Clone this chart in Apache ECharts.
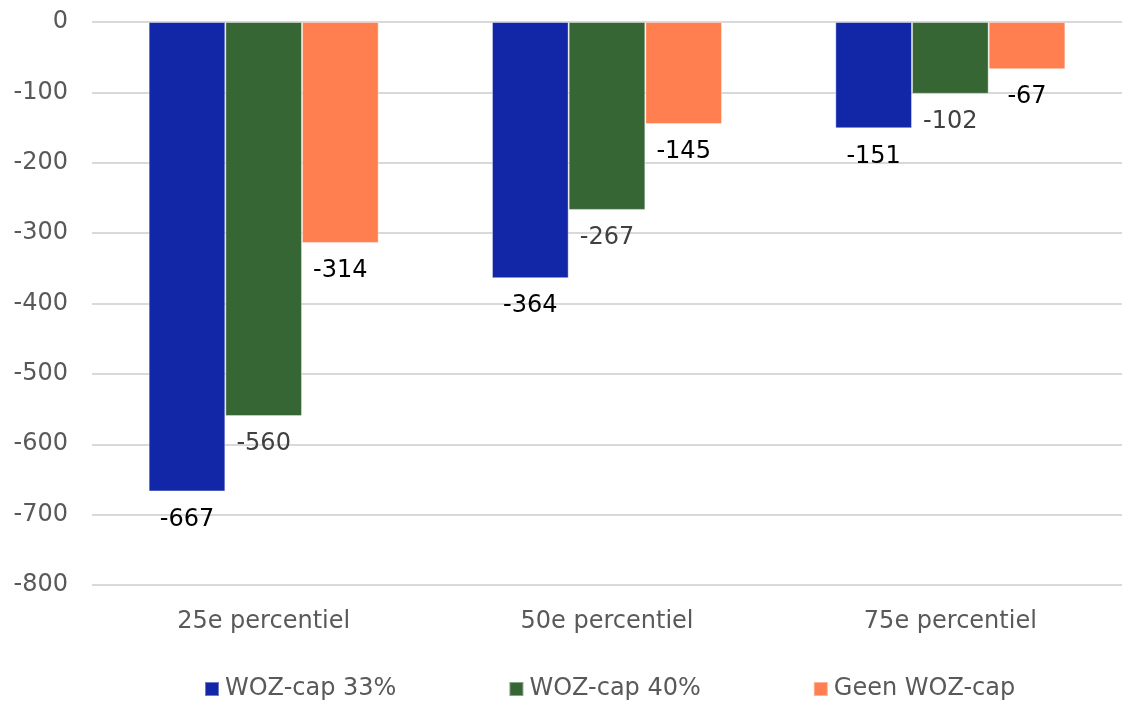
<!DOCTYPE html>
<html><head><meta charset="utf-8">
<script src="https://cdn.jsdelivr.net/npm/echarts@6/dist/echarts.min.js"></script>
<style>html,body{margin:0;padding:0;background:#fff}#c{width:1123px;height:702px}</style>
</head><body><div id="c"></div>
<script>
const categories = ['25e percentiel', '50e percentiel', '75e percentiel'];
const seriesNames = ['WOZ-cap 33%', 'WOZ-cap 40%', 'Geen WOZ-cap'];
const woz33 = [-667, -364, -151];
const woz40 = [-560, -267, -102];
const geenWoz = [-314, -145, -67];
const yTicks = [0, -100, -200, -300, -400, -500, -600, -700, -800];

const colors = ['#1226A8', '#376635', '#FF7F50'];
const labelColors = ['#000000', '#404040', '#000000'];
const font = 'DejaVu Sans, Verdana, sans-serif';
const values = [woz33, woz40, geenWoz];

const chart = echarts.init(document.getElementById('c'));
chart.setOption({
  animation: false,
  color: colors,
  grid: { left: 92, right: 1, top: 22, bottom: 117, containLabel: false },
  legend: {
    top: 677, left: 204, padding: 0, itemWidth: 14, itemHeight: 14, itemGap: 112,
    icon: 'rect',
    textStyle: { fontFamily: font, fontSize: 24, color: '#595959', padding: [0, 0, 0, 1] },
    data: seriesNames
  },
  xAxis: {
    type: 'category', data: categories, position: 'bottom',
    axisLine: { show: false }, axisTick: { show: false },
    axisLabel: { fontFamily: font, fontSize: 24, color: '#595959', margin: 25 }
  },
  yAxis: {
    type: 'value', min: -800, max: 0, interval: 100,
    axisLine: { show: false }, axisTick: { show: false },
    splitLine: { lineStyle: { color: '#d9d9d9', width: 2 } },
    axisLabel: { fontFamily: font, fontSize: 24, color: '#595959', margin: 24,
      formatter: v => yTicks.includes(v) ? String(v) : '' }
  },
  series: seriesNames.map((n, i) => ({
    name: n, type: 'bar', data: values[i],
    barGap: '0%', barCategoryGap: '33%',
    itemStyle: { color: colors[i], borderColor: 'rgba(255,255,255,0.4)', borderWidth: 1 },
    label: { show: true, position: 'bottom', distance: 16, fontFamily: font, fontSize: 24, color: labelColors[i] }
  }))
});
</script></body></html>
